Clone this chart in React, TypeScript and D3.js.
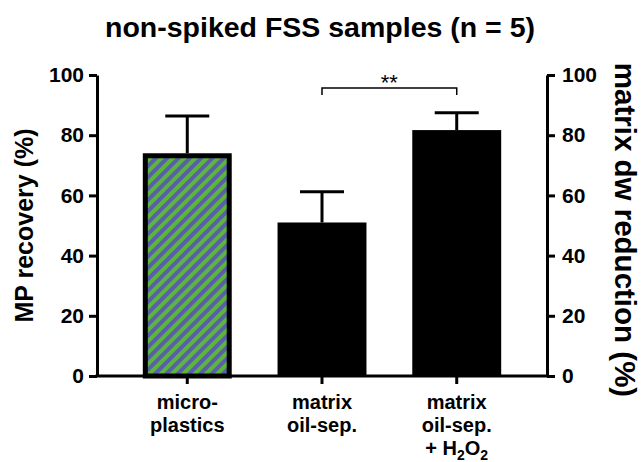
import React, { useEffect, useRef } from 'react';
import * as d3 from 'd3';

const categories = ['microplastics', 'matrix oil-sep.', 'matrix oil-sep. + H2O2'];
const means = [74, 51, 81.7];
const errors = [12.4, 10.2, 5.8];
const yTicks = [0, 20, 40, 60, 80, 100];
const labelLines = [
  ['micro-', 'plastics'],
  ['matrix', 'oil-sep.'],
  ['matrix', 'oil-sep.', '+ H2O2'],
];
const hatched = [true, false, false];

const FONT = '"Liberation Sans", Arial, sans-serif';

const App: React.FC = () => {
  const svgRef = useRef<SVGSVGElement>(null);

  useEffect(() => {
    if (!svgRef.current) return;
    const width = 641;
    const height = 462;
    const left = 97, right = 547, top = 75, bottom = 376;

    const svg = d3.select(svgRef.current);
    svg.selectAll('*').remove();
    svg.attr('width', width).attr('height', height);

    // hatch pattern
    const defs = svg.append('defs');
    const pat = defs.append('pattern')
      .attr('id', 'hatch')
      .attr('patternUnits', 'userSpaceOnUse')
      .attr('width', 8)
      .attr('height', 8)
      .attr('patternTransform', 'rotate(45)');
    pat.append('rect').attr('width', 8).attr('height', 8).attr('fill', '#5a5fa9');
    pat.append('rect').attr('width', 4).attr('height', 8).attr('fill', '#5cb63b');

    const x = d3.scaleBand<string>()
      .domain(categories)
      .range([left, right])
      .padding(0.34);

    const y = d3.scaleLinear().domain([0, 100]).range([bottom, top]);

    const data = categories.map((c, i) => ({ c, v: means[i], e: errors[i], h: hatched[i] }));

    // Bars
    svg.selectAll('.bar')
      .data(data)
      .enter().append('rect')
      .attr('class', 'bar')
      .attr('x', d => (x(d.c) || 0) + (d.h ? 2.5 : 0))
      .attr('y', d => y(d.v) + (d.h ? 2.5 : 0))
      .attr('width', d => x.bandwidth() - (d.h ? 5 : 0))
      .attr('height', d => bottom - y(d.v) - (d.h ? 2.5 : 0))
      .attr('fill', d => (d.h ? 'url(#hatch)' : '#000'))
      .attr('stroke', d => (d.h ? '#000' : 'none'))
      .attr('stroke-width', 5);

    // Error bars (upper only)
    const eb = svg.append('g').attr('stroke', '#000').attr('stroke-width', 3);
    data.forEach(d => {
      const cx = (x(d.c) || 0) + x.bandwidth() / 2;
      eb.append('line').attr('x1', cx).attr('x2', cx).attr('y1', y(d.v)).attr('y2', y(d.v + d.e));
      eb.append('line').attr('x1', cx - 22).attr('x2', cx + 22).attr('y1', y(d.v + d.e)).attr('y2', y(d.v + d.e));
    });

    const styleAxis = (g: d3.Selection<SVGGElement, unknown, null, undefined>) => {
      g.select('.domain').attr('stroke', '#000').attr('stroke-width', 3);
      g.selectAll('.tick line').attr('stroke', '#000').attr('stroke-width', 3);
      g.selectAll('.tick text')
        .attr('fill', '#000')
        .style('font-family', FONT)
        .style('font-weight', 'bold')
        .style('font-size', '21px');
    };

    // Left axis
    svg.append('g')
      .attr('transform', `translate(${left},0)`)
      .call(d3.axisLeft(y).tickValues(yTicks).tickSize(8).tickSizeOuter(0).tickPadding(5))
      .call(styleAxis);

    // Right axis
    svg.append('g')
      .attr('transform', `translate(${right},0)`)
      .call(d3.axisRight(y).tickValues(yTicks).tickSize(8).tickSizeOuter(0).tickPadding(7))
      .call(styleAxis);

    // Bottom axis
    const xa = svg.append('g')
      .attr('transform', `translate(0,${bottom})`)
      .call(d3.axisBottom(x).tickSize(8).tickSizeOuter(0).tickFormat(() => ''))
      .call(styleAxis);
    xa.select('.domain').attr('d', `M${left - 1.5},0H${right + 1.5}`);

    // Category labels
    const lab = svg.append('g')
      .attr('font-family', FONT)
      .attr('font-weight', 'bold')
      .attr('font-size', 20)
      .attr('text-anchor', 'middle');
    labelLines.forEach((lines, i) => {
      const cx = (x(categories[i]) || 0) + x.bandwidth() / 2;
      lines.forEach((ln, j) => {
        const t = lab.append('text').attr('x', cx).attr('y', 409 + j * 23);
        if (ln === '+ H2O2') {
          t.append('tspan').text('+ H');
          t.append('tspan').attr('font-size', 14).attr('dy', 5).text('2');
          t.append('tspan').attr('dy', -5).text('O');
          t.append('tspan').attr('font-size', 14).attr('dy', 5).text('2');
        } else {
          t.text(ln);
        }
      });
    });

    // Significance bracket
    const c2 = (x(categories[1]) || 0) + x.bandwidth() / 2;
    const c3 = (x(categories[2]) || 0) + x.bandwidth() / 2;
    svg.append('path')
      .attr('d', `M${c2},95V88H${c3}V95`)
      .attr('fill', 'none')
      .attr('stroke', '#000')
      .attr('stroke-width', 1.5);
    svg.append('text')
      .attr('x', (c2 + c3) / 2)
      .attr('y', 90)
      .attr('text-anchor', 'middle')
      .attr('font-family', FONT)
      .attr('font-size', 22)
      .text('**');

    // Title
    svg.append('text')
      .attr('x', 320)
      .attr('y', 37)
      .attr('text-anchor', 'middle')
      .attr('font-family', FONT)
      .attr('font-weight', 'bold')
      .attr('font-size', 28.5)
      .text('non-spiked FSS samples (n = 5)');

    // Y axis titles
    svg.append('text')
      .attr('transform', `translate(33,${(top + bottom) / 2}) rotate(-90)`)
      .attr('text-anchor', 'middle')
      .attr('font-family', FONT)
      .attr('font-weight', 'bold')
      .attr('font-size', 25)
      .text('MP recovery (%)');

    svg.append('text')
      .attr('transform', `translate(615,230) rotate(90)`)
      .attr('text-anchor', 'middle')
      .attr('font-family', FONT)
      .attr('font-weight', 'bold')
      .attr('font-size', 29.5)
      .text('matrix dw reduction (%)');
  }, []);

  return (
    <div style={{ position: 'absolute', left: 0, top: 0, background: '#fff' }}>
      <svg ref={svgRef} style={{ display: 'block' }}></svg>
    </div>
  );
};

export default App;
